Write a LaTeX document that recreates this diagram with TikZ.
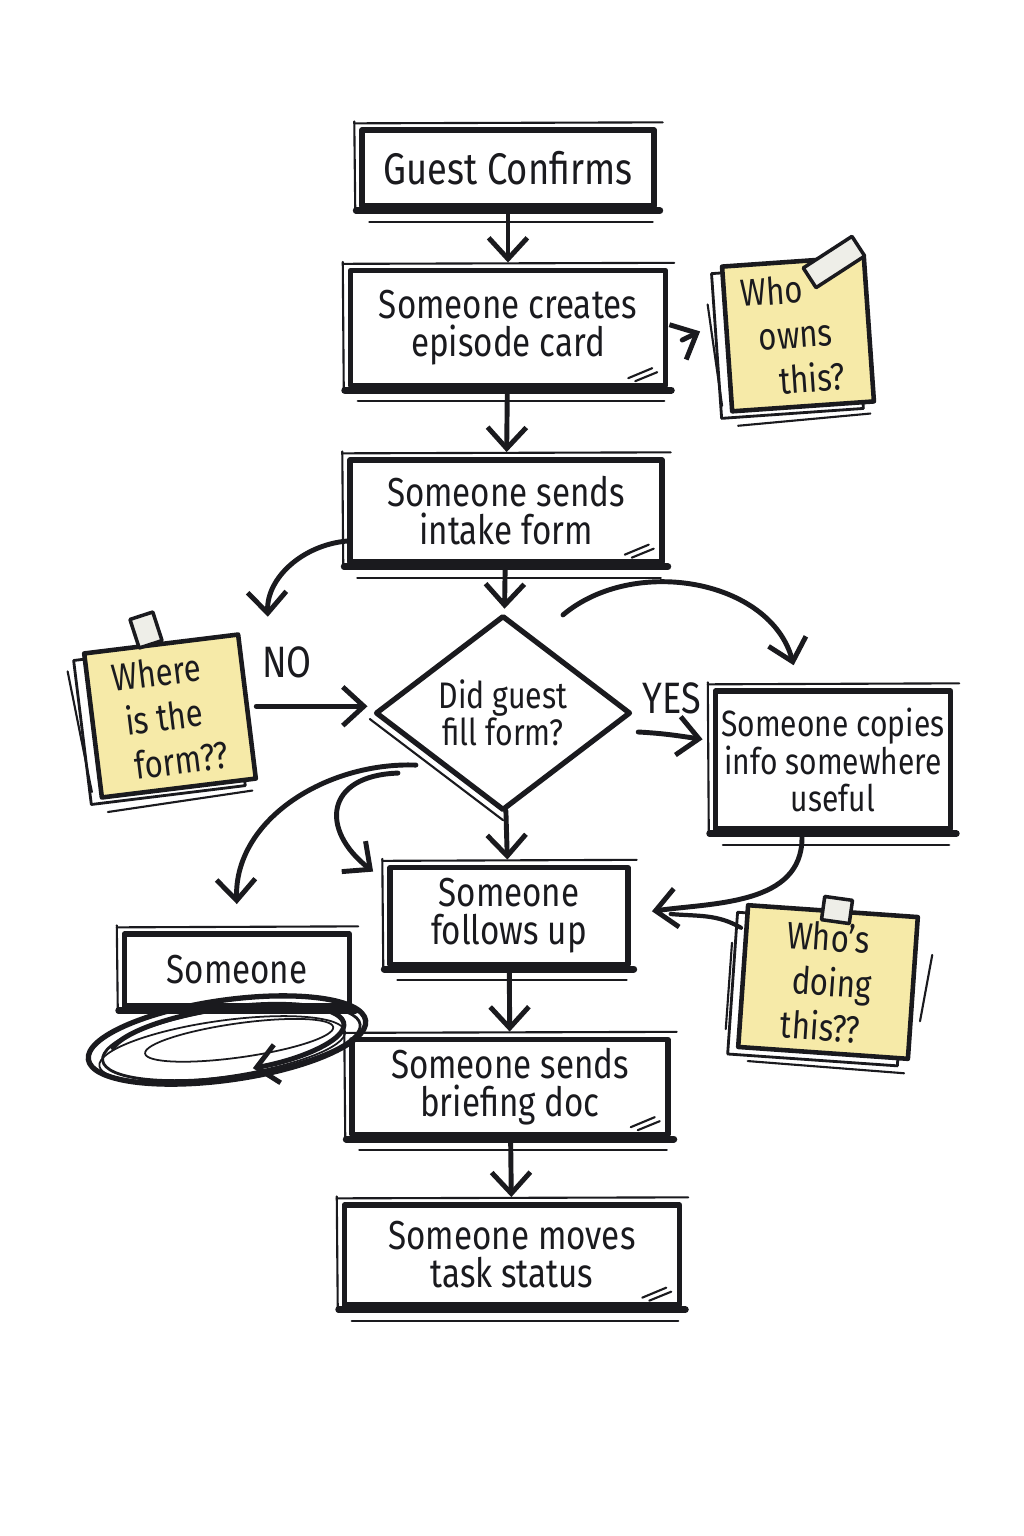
\documentclass[tikz,border=0pt]{standalone}
\usepackage{fontspec}
\setmainfont{Fira Sans}[FakeStretch=0.82]
\usepackage{tikz}
\usetikzlibrary{arrows.meta}
\usetikzlibrary{shapes.geometric}
\usetikzlibrary{positioning}

\definecolor{ink}{RGB}{26,26,30}
\definecolor{notefill}{RGB}{246,234,168}
\definecolor{tapefill}{RGB}{238,238,232}

\newcommand{\stepfont}{\fontsize{11.5}{10.8}\selectfont}
\newcommand{\smallstepfont}{\fontsize{10.4}{10.6}\selectfont}
\newcommand{\titlefont}{\fontsize{12.6}{14}\selectfont}
\newcommand{\notefont}{\fontsize{10.8}{12.8}\selectfont}
\newcommand{\askfont}{\fontsize{10.5}{10.5}\selectfont}
\newcommand{\tagfont}{\fontsize{12.5}{12.5}\selectfont}

\tikzset{
  stepbox/.style={draw=ink, line width=1.5pt, fill=white, align=center, inner sep=0pt, font=\stepfont, text=ink},
  askbox/.style={diamond, draw=ink, line width=1.5pt, fill=white, align=center, inner sep=0pt, font=\askfont, text=ink},
  sticky/.style={draw=ink, line width=1.3pt, fill=notefill, align=left, inner sep=0pt, font=\notefont, text=ink,
    preaction={draw=ink, line width=0.8pt, transform canvas={shift={(-3pt,-2pt)}}}},
  tape/.style={draw=ink, line width=1pt, fill=tapefill},
  link/.style={draw=ink, line width=1.4pt, ->, shorten >=1.5pt},
  pencil/.style={draw=ink, line width=0.6pt},
  tag/.style={font=\tagfont, text=ink},
}

\begin{document}
\begin{tikzpicture}[x=0.01cm, y=0.01cm, >={Straight Barb[length=6pt,width=11pt]}, line cap=round, line join=round]
	\fill[white] (0,0) rectangle (1024,-1536);
	% main column
	\node[stepbox, font=\titlefont, minimum width=2.92cm, minimum height=0.76cm] (guest) at (508,-168) {Guest Confirms};
	\node[stepbox, minimum width=3.15cm, minimum height=1.15cm] (card) at (508,-328) {Someone creates\\episode card};
	\node[stepbox, minimum width=3.12cm, minimum height=1.02cm] (intake) at (506,-511) {Someone sends\\intake form};
	\node[askbox, minimum width=2.55cm, minimum height=1.55cm] (fillq) at (503,-713) {Did guest\\fill form?};
	\node[stepbox, minimum width=2.38cm, minimum height=0.97cm] (follow) at (509,-916) {Someone\\follows up};
	\node[stepbox, minimum width=3.16cm, minimum height=0.95cm] (brief) at (510,-1087) {Someone sends\\briefing doc};
	\node[stepbox, minimum width=3.35cm, minimum height=1.0cm] (status) at (512,-1255) {Someone moves\\task status};
	% side boxes
	\node[stepbox, font=\smallstepfont, minimum width=2.35cm, minimum height=1.38cm] (copies) at (833,-760) {Someone copies\\info somewhere\\useful};
	\node[stepbox, minimum width=2.25cm, minimum height=0.72cm] (someone) at (237,-970) {Someone};
	%
	\foreach \bx in {guest,card,intake,follow,brief,status,copies,someone}{
		\draw[pencil] ([shift={(-5,4)}]\bx.north west) -- ([shift={(6,5)}]\bx.north east);
		\draw[pencil] ([shift={(-5,6)}]\bx.north west) -- ([shift={(-4,-4)}]\bx.south west);
		\draw[ink, line width=2pt] ([shift={(-3,-2)}]\bx.south west) -- ([shift={(3,-2)}]\bx.south east);
	}
	\foreach \bx in {guest,card,intake,follow,brief,status,copies}
		\draw[pencil] ([shift={(10,-13)}]\bx.south west) -- ([shift={(-4,-13)}]\bx.south east);
	\foreach \bx in {card,intake,brief,status}{
		\draw[pencil] ([shift={(-40,10)}]\bx.south east) -- ++(24,10);
		\draw[pencil] ([shift={(-33,7)}]\bx.south east) -- ++(22,9);
	}
	\draw[pencil] ([shift={(-3,-6)}]fillq.west) -- ([shift={(0,-7)}]fillq.south);
	%
	% sticky notes
	\node[sticky, rotate=4, minimum width=1.42cm, minimum height=1.45cm] (ownsnote) at (798,-334) {\hspace*{-0.1cm}Who\\\hspace*{0.05cm}owns\\\hspace*{0.22cm}this?};
	\node[sticky, rotate=7, minimum width=1.55cm, minimum height=1.45cm] (formnote) at (170,-716) {Where\\\hspace*{0.08cm}is the\\\hspace*{0.12cm}form??};
	\node[sticky, rotate=-4, minimum width=1.7cm, minimum height=1.42cm] (doingnote) at (828,-982) {Who’s\\\hspace*{0.08cm}doing\\this??};
	\node[tape, rotate=33, minimum width=0.58cm, minimum height=0.17cm] (ownstape) at (834,-262) {};
	\node[tape, rotate=18, minimum width=0.24cm, minimum height=0.3cm] (formtape) at (146,-630) {};
	\node[tape, rotate=-8, minimum width=0.28cm, minimum height=0.23cm] (doingtape) at (837,-910) {};
	\draw[pencil] ([shift={(-14,-20)}]formnote.north west) -- ([shift={(-8,8)}]formnote.south west);
	\draw[pencil] ([shift={(8,-12)}]formnote.south west) -- ([shift={(-6,-10)}]formnote.south east);
	\draw[pencil] ([shift={(-12,-40)}]ownsnote.north west) -- ([shift={(-8,8)}]ownsnote.south west);
	\draw[pencil] ([shift={(8,-12)}]ownsnote.south west) -- ([shift={(-6,-10)}]ownsnote.south east);
	\draw[pencil] ([shift={(-14,-40)}]doingnote.north west) -- ([shift={(-10,20)}]doingnote.south west);
	\draw[pencil] ([shift={(12,-12)}]doingnote.south west) -- ([shift={(-6,-12)}]doingnote.south east);
	\draw[pencil] ([shift={(12,-40)}]doingnote.north east) -- ([shift={(10,40)}]doingnote.south east);
	%
	% labels
	\node[tag] (nolabel) at (287,-662) {NO};
	\node[tag] (yeslabel) at (672,-698) {YES};
	\coordinate (noend) at (268,-622);
	%
	% connectors
	\draw[link] (guest) -- (card);
	\draw[link] (card) -- (intake);
	\draw[link] (intake) -- (fillq);
	\draw[link] (fillq) -- (follow);
	\draw[link] (follow) -- (brief);
	\draw[link] (brief) -- (status);
	\draw[link] ([shift={(14,-12)}]card.east) -- ([shift={(-20,10)}]ownsnote.west);
	\draw[link] ([shift={(0,-30)}]intake.west) to[out=185,in=92] (noend);
	\draw[link, shorten <=2pt] (formnote.east) -- (fillq.west |- formnote.east);
	\draw[link] ([shift={(5,-19)}]fillq.east) to[out=-3,in=172] ([shift={(-5,20)}]copies.west);
	\draw[link] ([shift={(60,-2)}]fillq.north) to[out=40,in=105] ([shift={(-38,18)}]copies.north);
	\draw[link] ([shift={(-22,-2)}]fillq.south west) to[out=178,in=92] ([shift={(0,22)}]someone.north);
	\draw[link] ([shift={(-40,-10)}]fillq.south west) to[out=182,in=142,looseness=1.8] ([shift={(-10,-10)}]follow.north west);
	\draw[link] ([shift={(-31,-6)}]copies.south) to[out=-90,in=8] ([shift={(16,4)}]follow.east);
	\draw[ink, line width=1.2pt] ([shift={(-5,-25)}]doingnote.north west) to[out=150,in=-5] ([shift={(40,2)}]follow.east);
	%
	% the loop under Someone
	\coordinate (swirl) at ([shift={(-10,-70)}]someone.center);
	\begin{scope}[shift={(swirl)}, rotate=8]
		\draw[ink, line width=1.5pt] (0,0) ellipse [x radius=140, y radius=40];
		\draw[ink, line width=0.8pt] (4,-3) ellipse [x radius=130, y radius=34];
		\draw[ink, line width=0.5pt] (-6,-8) ellipse [x radius=124, y radius=28];
		\draw[ink, line width=0.5pt] (12,-2) ellipse [x radius=95, y radius=17];
		\draw[link] (165:118 and 32) arc [start angle=165, end angle=-82, x radius=118, y radius=32];
	\end{scope}
\end{tikzpicture}
\end{document}
